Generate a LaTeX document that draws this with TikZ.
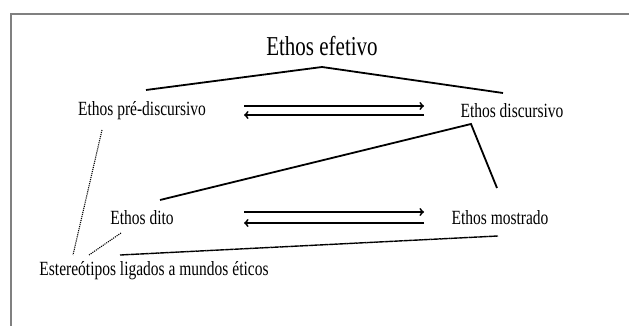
\documentclass[tikz,border=0pt]{standalone}
\usepackage{fontspec}
\setmainfont{Liberation Serif}
\usetikzlibrary{arrows}
\newcommand{\tall}[1]{\scalebox{1}[1.3]{#1}}

\begin{document}
\begin{tikzpicture}[x=1pt,y=1pt,
	lbl/.style={inner sep=0pt,font=\fontsize{15.5}{17}\selectfont},
	solidln/.style={line width=1.8pt},
	dblarr/.style={line width=1.8pt,-to},
	dotln/.style={line width=1.1pt,densely dotted}]
	\clip (0,0) rectangle (629,326);
	\useasboundingbox (0,0) rectangle (629,326);
	\draw [gray,line width=1.6pt] (11,-20) -- (11,312) -- (650,312);
	\node (efetivo) at (322,280) [inner sep=0pt,font=\fontsize{21}{24}\selectfont] {\tall{Ethos efetivo}};
	\node (pre)    at (142,215) [lbl] {\tall{Ethos pré-discursivo}};
	\node (disc)   at (512,215) [lbl] {\tall{Ethos discursivo}};
	\node (dito)   at (142,108) [lbl] {\tall{Ethos dito}};
	\node (mostr)  at (500,108) [lbl] {\tall{Ethos mostrado}};
	\node (ester)  at (154,55)  [lbl] {\tall{Estereótipos ligados a mundos éticos}};
	% pontos das ligacoes
	\coordinate (efTop)  at (322,259);
	\coordinate (preR)   at (146,236);
	\coordinate (discL)  at (503,233);
	\coordinate (ditoR)  at (160,126);
	\coordinate (discB)  at (471,202);
	\coordinate (mostrT) at (497,138);
	\coordinate (preB)   at (102,196);
	\coordinate (ditoB)  at (121,93);
	\coordinate (mostrB) at (498,90);
	\coordinate (esA)    at (73,71);
	\coordinate (esB)    at (89,71);
	\coordinate (esC)    at (120,71);
	\coordinate (a1) at (244,220); \coordinate (a2) at (424,220);
	\coordinate (a3) at (244,211); \coordinate (a4) at (424,211);
	\coordinate (b1) at (244,114); \coordinate (b2) at (424,114);
	\coordinate (b3) at (244,103); \coordinate (b4) at (424,103);
	\draw [solidln] (preR) -- (efTop) -- (discL);
	\draw [solidln] (ditoR) -- (discB) -- (mostrT);
	\draw [dblarr] (a1) -- (a2);
	\draw [dblarr] (a4) -- (a3);
	\draw [dblarr] (b1) -- (b2);
	\draw [dblarr] (b4) -- (b3);
	\draw [dotln] (preB) -- (esA);
	\draw [dotln] (ditoB) -- (esB);
	\draw [line width=1.4pt,dash pattern=on 1.5pt off 0.3pt] (esC) -- (mostrB);
\end{tikzpicture}
\end{document}
